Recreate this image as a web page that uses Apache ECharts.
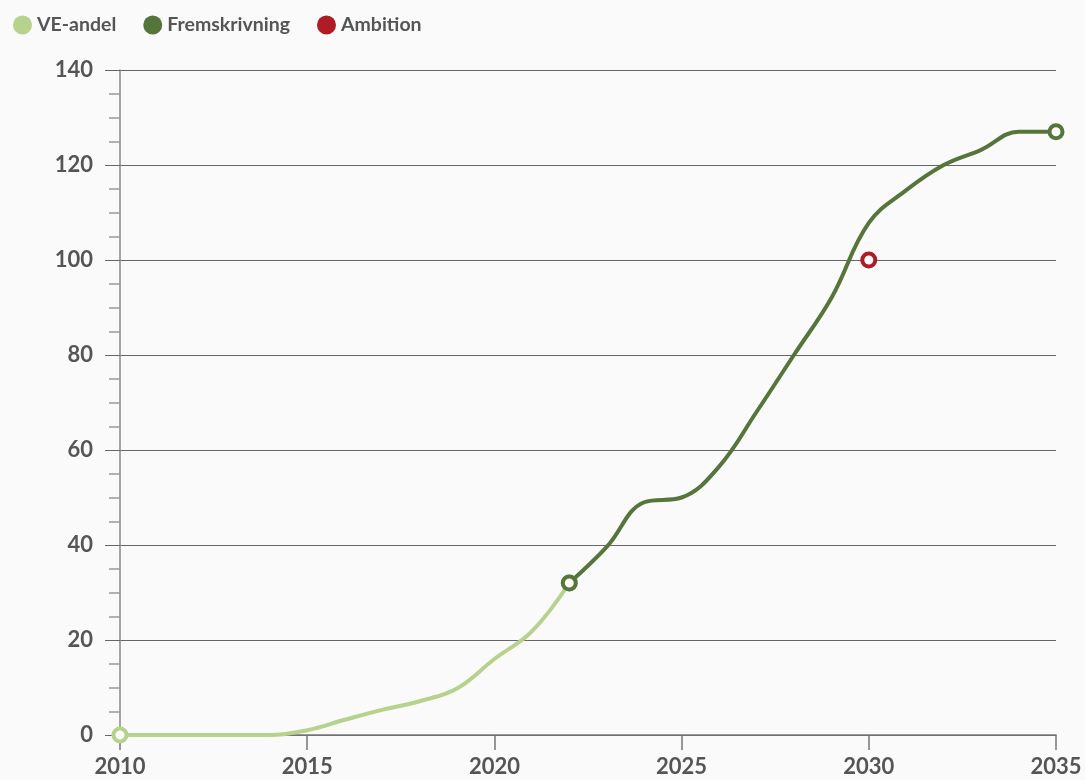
<!DOCTYPE html>
<html>
<head>
<meta charset="utf-8">
<script src="https://cdn.jsdelivr.net/npm/echarts@6/dist/echarts.min.js"></script>
<style>
html,body{margin:0;padding:0;background:#fafafa;}
#chart{width:1085px;height:780px;}
</style>
</head>
<body>
<div id="chart"></div>
<script>
const veYears = [2010, 2011, 2012, 2013, 2014, 2015, 2016, 2017, 2018, 2019, 2020, 2021, 2022];
const veValues = [0, 0, 0, 0, 0, 1, 3.2, 5.3, 7.1, 9.8, 16, 21.8, 32];
const fremYears = [2022, 2023, 2024, 2025, 2026, 2027, 2028, 2029, 2030, 2031, 2032, 2033, 2034, 2035];
const fremValues = [32, 39.6, 49, 50, 56.5, 68, 80, 92, 107.8, 114.7, 120, 123.2, 127, 127];
const ambYears = [2030];
const ambValues = [100];

const BG = '#fafafa';
function endpoints(xs, ys) {
  return xs.map((x, i) => ({
    value: [x, ys[i]],
    symbol: (i === 0 || i === xs.length - 1) ? 'circle' : 'none'
  }));
}

const font = 'Lato, "Open Sans", sans-serif';
const chart = echarts.init(document.getElementById('chart'));
const colors = { ve: '#b6d28c', frem: '#55753a', amb: '#b01c26' };
chart.setOption({
  backgroundColor: BG,
  animation: false,
  textStyle: { fontFamily: font },
  legend: {
    left: 8, top: 10,
    icon: 'circle', itemWidth: 19, itemHeight: 19, itemGap: 27,
    textStyle: { fontFamily: font, fontSize: 19.5, fontWeight: 'bold', color: '#555' },
    data: [
      { name: 'VE-andel', itemStyle: { color: colors.ve, borderWidth: 0 } },
      { name: 'Fremskrivning', itemStyle: { color: colors.frem, borderWidth: 0 } },
      { name: 'Ambition', itemStyle: { color: colors.amb, borderWidth: 0 } }
    ]
  },
  grid: { left: 120, right: 29, top: 70, bottom: 45, containLabel: false },
  xAxis: {
    type: 'value', min: 2010, max: 2035, interval: 5,
    axisLine: { show: true, lineStyle: { color: '#777', width: 1.5 } },
    axisTick: { show: true, length: 15, lineStyle: { color: '#777', width: 1.5 } },
    axisLabel: { margin: 21, fontSize: 22, fontWeight: 'bold', color: '#555', fontFamily: font, formatter: v => String(v) },
    splitLine: { show: false }
  },
  yAxis: {
    type: 'value', min: 0, max: 140, interval: 20,
    axisLine: { show: true, lineStyle: { color: '#888', width: 1.5 } },
    axisTick: { show: true, length: 15, lineStyle: { color: '#666', width: 1 } },
    minorTick: { show: true, splitNumber: 4, length: 11, lineStyle: { color: '#999', width: 1.5 } },
    axisLabel: { margin: 27, fontSize: 22, fontWeight: 'bold', color: '#555', fontFamily: font },
    splitLine: { show: true, lineStyle: { color: '#666', width: 1 } }
  },
  series: [
    {
      name: 'VE-andel', type: 'line', smooth: 0.4,
      data: endpoints(veYears, veValues),
      symbolSize: 13, color: colors.ve,
      lineStyle: { width: 4, color: colors.ve },
      itemStyle: { color: BG, borderColor: colors.ve, borderWidth: 4 },
      z: 2
    },
    {
      name: 'Fremskrivning', type: 'line', smooth: 0.4,
      data: endpoints(fremYears, fremValues),
      symbolSize: 13, color: colors.frem,
      lineStyle: { width: 4, color: colors.frem },
      itemStyle: { color: BG, borderColor: colors.frem, borderWidth: 4 },
      z: 3
    },
    {
      name: 'Ambition', type: 'line',
      data: ambYears.map((x, i) => [x, ambValues[i]]),
      symbol: 'circle', symbolSize: 13, color: colors.amb,
      lineStyle: { width: 4, color: colors.amb },
      itemStyle: { color: BG, borderColor: colors.amb, borderWidth: 4 },
      z: 4
    }
  ]
});
</script>
</body>
</html>
